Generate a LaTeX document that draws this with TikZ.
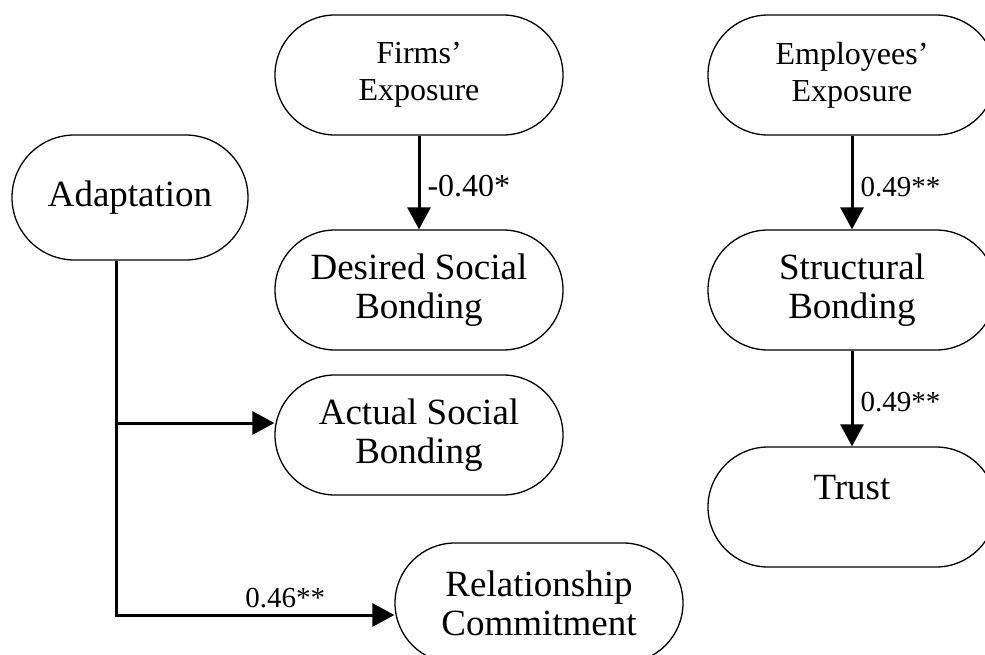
\documentclass[tikz,border=0pt]{standalone}
\usepackage{fontspec}
\setmainfont{Liberation Serif}
\usetikzlibrary{arrows.meta}
\newcommand\fbig{\fontsize{37}{39}\selectfont}
\newcommand\fmid{\fontsize{32}{37}\selectfont}
\newcommand\flab{\fontsize{29}{30}\selectfont}
\newcommand\flabb{\fontsize{32}{33}\selectfont}
\begin{document}
\begin{tikzpicture}[x=1pt,y=-1pt,
  pill/.style={draw, line width=1.3pt, rectangle, rounded corners=60pt,
    minimum width=288pt, minimum height=120pt, inner sep=0pt, align=center, font=\fbig},
  arr/.style={line width=3pt, -{Triangle[width=23pt,length=22pt]}},
  wire/.style={line width=3pt},
  lab/.style={font=\flab, inner sep=0pt}]
\useasboundingbox (0,0) rectangle (985,655);
\clip (0,0) rectangle (985,655);
\node[pill, font=\fmid] (fe) at (419,75) {Firms'\\Exposure};
\node[pill, font=\fmid] (ee) at (852,75) {Employees'\\Exposure};
\node[pill, minimum width=236pt, minimum height=125pt, rounded corners=62.5pt] (ad) at (130,197.5) {Adaptation};
\node[pill] (ds) at (419,290) {Desired Social\\Bonding};
\node[pill] (sb) at (852,290) {Structural\\Bonding};
\node[pill] (as) at (419,435) {Actual Social\\Bonding};
\node[pill] (tr) at (852,507) {Trust\\\mbox{}};
\node[pill] (rc) at (539,603) {Relationship\\Commitment};
\coordinate (j1) at (116,423);
\coordinate (j2) at (116,615);
\draw[arr] (fe) -- node[lab, font=\flabb, pos=0.65, anchor=base west, xshift=7pt] {-0.40*} (ds);
\draw[arr] (ee) -- node[lab, pos=0.65, anchor=base west, xshift=7pt] {0.49**} (sb);
\draw[arr] (sb) -- node[lab, pos=0.64, anchor=base west, xshift=7pt] {0.49**} (tr);
\draw[wire] (ad.south -| j1) -- (j2);
\draw[arr] (j1) -- (j1 -| as.west);
\draw[arr] ([xshift=-1.5pt]j2) -- node[lab, pos=0.61, anchor=base, yshift=8pt] {0.46**} (j2 -| rc.west);
\end{tikzpicture}
\end{document}
